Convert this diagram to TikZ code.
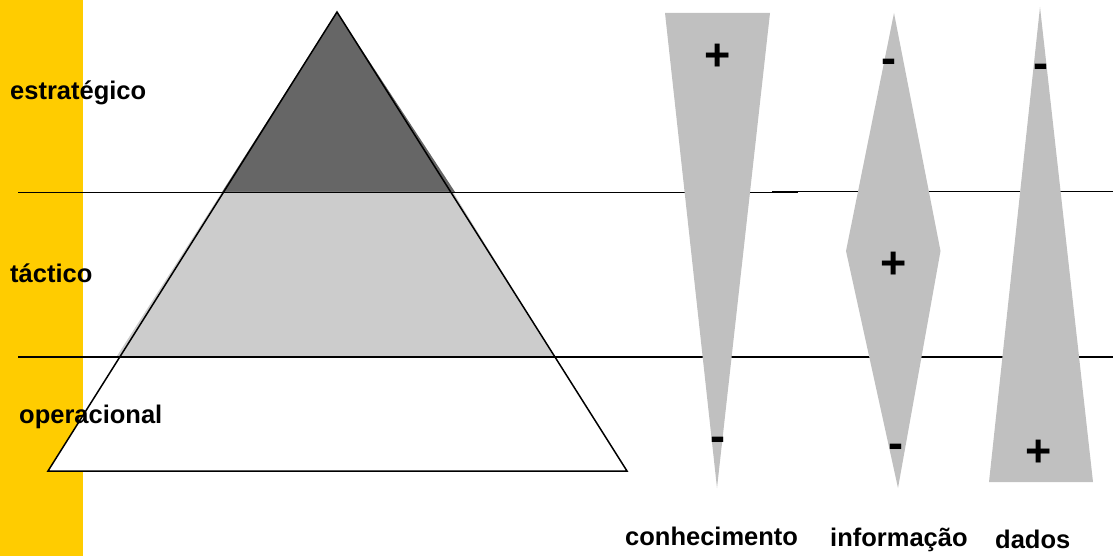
\documentclass[tikz,border=0pt]{standalone}
\usepackage{fontspec}
\setmainfont{Liberation Sans}
\definecolor{barYellow}{HTML}{FFCC00}
\definecolor{topGray}{HTML}{666666}
\definecolor{midGray}{HTML}{CCCCCC}
\definecolor{wedgeGray}{HTML}{C0C0C0}

\begin{document}
\begin{tikzpicture}[x=1pt, y=-1pt,
  lvl/.style={font=\fontsize{25.5}{30}\selectfont\bfseries, anchor=base west, inner sep=0pt},
  sgn/.style={font=\fontsize{45}{50}\selectfont\bfseries, inner sep=0pt},
  rule/.style={line width=1.9pt},
  edge/.style={line width=1.5pt, line join=miter},
  wedge/.style={fill=wedgeGray}
]
\useasboundingbox (0,0) rectangle (1114,556);

% ---------- side bar ----------
\fill[barYellow] (0,0) rectangle (83,556);

% ---------- pyramid ----------
\coordinate (apex) at (337,12);
\coordinate (bl) at (48,471);
\coordinate (br) at (627,471);
\fill[topGray] (apex) -- (455,192) -- (222,192) -- cycle;
\fill[midGray] (222,192) -- (453,192) -- (554,356) -- (117,356) -- cycle;
\fill[white] (120,356) -- (554,356) -- (br) -- (bl) -- cycle;
\draw[edge] (apex) -- (br) -- (bl) -- cycle;

% ---------- level rules ----------
\draw[rule] (18,192.5) -- (798,192.5);
\draw[rule] (772,191.5) -- (1113,191.5);
\draw[rule] (18,357) -- (1113,357);

% ---------- wedges ----------
\fill[wedge] (665,13) -- (770,13) -- (717,488) -- cycle;
\fill[wedge] (894,13) -- (940.5,251) -- (898,488) -- (846,251) -- cycle;
\fill[wedge] (1040,7) -- (1093,482) -- (989,482) -- cycle;

\node[sgn] (conhPlus) at (718,57) {+};
\node[sgn] (conhMinus) at (718,438.5) {\vphantom{+}-};
\node[sgn] (infoMinusA) at (889,60) {\vphantom{+}-};
\node[sgn] (infoPlus) at (893.5,265.5) {+};
\node[sgn] (infoMinusB) at (895.7,445) {\vphantom{+}-};
\node[sgn] (dadosMinus) at (1041.2,65) {\vphantom{+}-};
\node[sgn] (dadosPlus) at (1039,453.5) {+};

% ---------- labels ----------
\node[lvl] (estrat) at (10,100) {estratégico};
\node[lvl] (tact) at (10,282) {táctico};
\node[lvl] (oper) at (19,423) {operacional};

\node[lvl] (conh) at (625,545) {conhecimento};
\node[lvl] (info) at (830,546) {informação};
\node[lvl] (dados) at (995,548) {dados};

\end{tikzpicture}
\end{document}
